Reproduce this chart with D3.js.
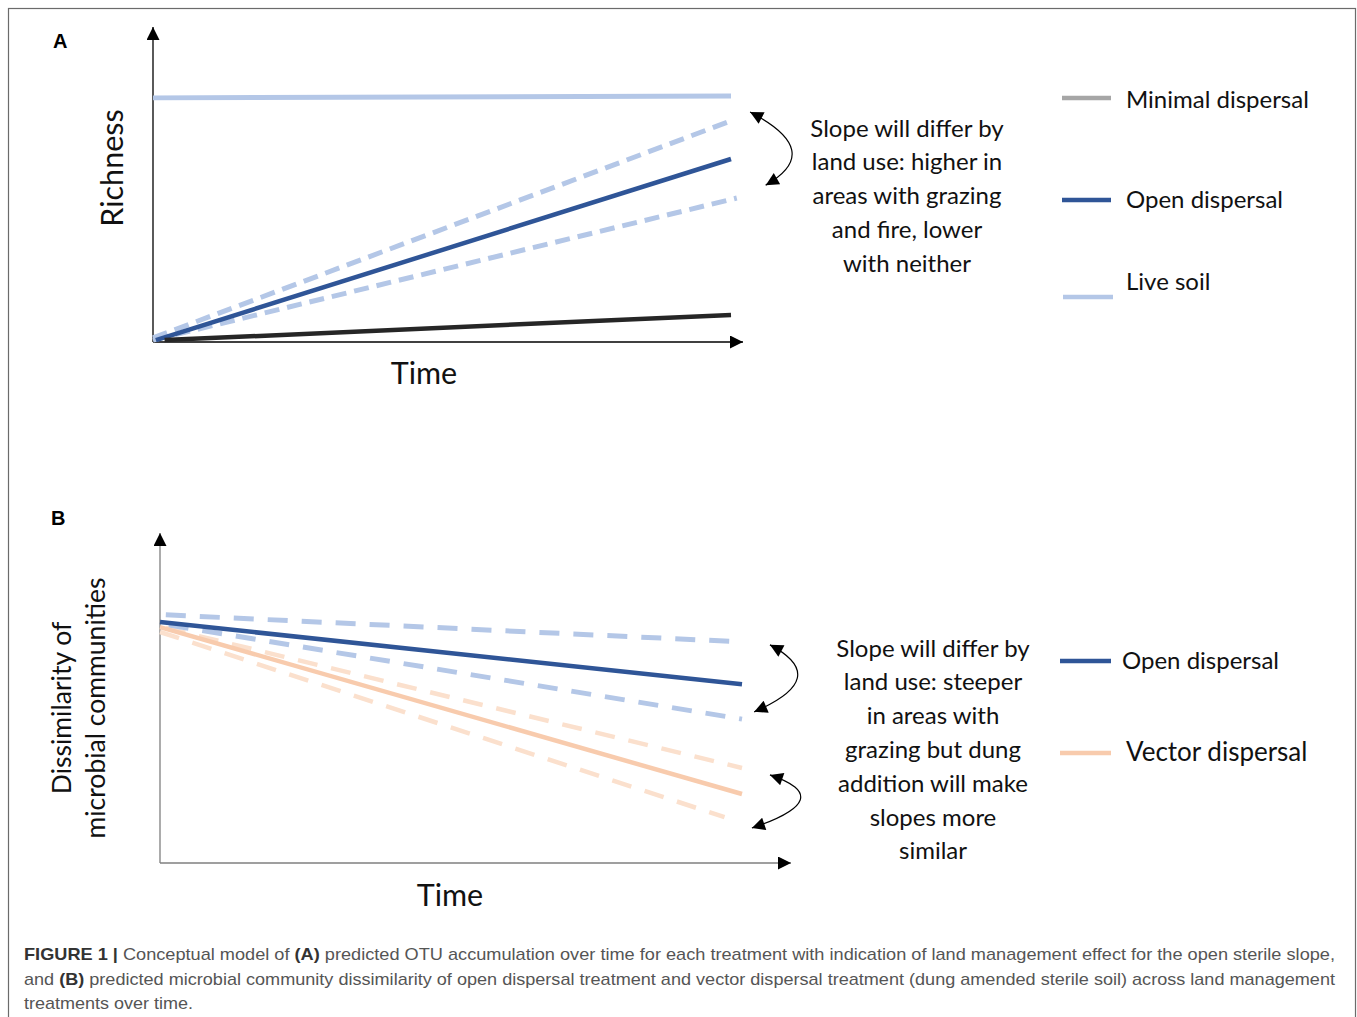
<!DOCTYPE html>
<html>
<head>
<meta charset="utf-8">
<script src="https://cdn.jsdelivr.net/npm/d3@7"></script>
<style>
  body { margin: 0; background: #fff; }
  svg { display: block; }
</style>
</head>
<body>
<svg id="fig" width="1357" height="1017"></svg>
<script>
'use strict';

// ---- data (conceptual model, arbitrary units: time 0-100, response 0-100) ----
var liveSoilA   = [{t: 0, v: 77.5}, {t: 100, v: 78.1}];
var openA       = [{t: 0.5, v: 0.6}, {t: 100, v: 58.1}];
var openHighA   = [{t: 0, v: 1.3}, {t: 100, v: 70.2}];
var openLowA    = [{t: 0, v: 0.6}, {t: 101, v: 45.7}];
var minimalA    = [{t: 2, v: 0.6}, {t: 100, v: 8.6}];

var openHighB   = [{t: 1, v: 75.2}, {t: 100, v: 67.0}];
var openB       = [{t: 0, v: 73.0}, {t: 100, v: 54.2}];
var openLowB    = [{t: 1.5, v: 72.1}, {t: 100, v: 43.6}];
var vectorHighB = [{t: 1, v: 71.2}, {t: 100, v: 28.8}];
var vectorB     = [{t: 0, v: 71.5}, {t: 100, v: 20.9}];
var vectorLowB  = [{t: 0, v: 70.0}, {t: 97, v: 13.9}];

var legendA = ["Minimal dispersal", "Open dispersal", "Live soil"];
var legendB = ["Open dispersal", "Vector dispersal"];

var noteA = ["Slope will differ by", "land use: higher in", "areas with grazing",
             "and fire, lower", "with neither"];
var noteB = ["Slope will differ by", "land use: steeper", "in areas with",
             "grazing but dung", "addition will make", "slopes more", "similar"];

var colors = {dark: "#2f5597", light: "#b4c7e7", black: "#262626", grey: "#a6a6a6",
              orange: "#f8cbad", orangeLight: "#fbe0cd"};

var svg = d3.select("#fig");
var font = "Lato, 'Open Sans', sans-serif";

// outer frame
svg.append("rect")
   .attr("x", 8.5).attr("y", 8.5)
   .attr("width", 1347).attr("height", 1030)
   .attr("fill", "none").attr("stroke", "#6b6b6b").attr("stroke-width", 1.2);

var defs = svg.append("defs");
defs.append("marker")
    .attr("id", "tri")
    .attr("viewBox", "0 0 10 10")
    .attr("refX", 10).attr("refY", 5)
    .attr("markerUnits", "userSpaceOnUse")
    .attr("markerWidth", 14).attr("markerHeight", 13)
    .attr("orient", "auto-start-reverse")
    .append("path").attr("d", "M0,0 L10,5 L0,10 Z").attr("fill", "#000");

function drawAxes(g, x, y, xEnd, yTop, axisColor) {
    g.append("line")
     .attr("x1", x.range()[0]).attr("y1", y.range()[0])
     .attr("x2", x.range()[0]).attr("y2", yTop)
     .attr("stroke", axisColor).attr("stroke-width", 1.3)
     .attr("marker-end", "url(#tri)");
    g.append("line")
     .attr("x1", x.range()[0]).attr("y1", y.range()[0])
     .attr("x2", xEnd).attr("y2", y.range()[0])
     .attr("stroke", axisColor).attr("stroke-width", 1.3)
     .attr("marker-end", "url(#tri)");
}

function drawSeries(g, line, data, color, dash, width) {
    g.append("path")
     .datum(data)
     .attr("d", line)
     .attr("fill", "none")
     .attr("stroke", color)
     .attr("stroke-width", width)
     .attr("stroke-dasharray", dash);
}

// curved double-headed arrow passing through a bulge point
function curvedArrow(g, x, y, a, bulge, b) {
    var p0 = [x(a[0]), y(a[1])], p2 = [x(b[0]), y(b[1])], pm = [x(bulge[0]), y(bulge[1])];
    var c = [2 * pm[0] - (p0[0] + p2[0]) / 2, 2 * pm[1] - (p0[1] + p2[1]) / 2];
    var p = d3.path();
    p.moveTo(p0[0], p0[1]);
    p.quadraticCurveTo(c[0], c[1], p2[0], p2[1]);
    g.append("path")
     .attr("d", p.toString())
     .attr("fill", "none").attr("stroke", "#000").attr("stroke-width", 1.2)
     .attr("marker-start", "url(#tri)").attr("marker-end", "url(#tri)");
}

function noteText(g, lines, cx, y0, step, size) {
    g.append("text")
     .attr("text-anchor", "middle")
     .attr("font-family", font).attr("font-size", size).attr("fill", "#111")
     .selectAll("tspan").data(lines).enter().append("tspan")
     .attr("x", cx).attr("y", (d, i) => y0 + i * step)
     .text(d => d);
}

// ---------------- panel A ----------------
var gA = svg.append("g");
var xA = d3.scaleLinear().domain([0, 100]).range([153, 731]);
var yA = d3.scaleLinear().domain([0, 100]).range([342, 27]);
var lineA = d3.line().x(d => xA(d.t)).y(d => yA(d.v));

gA.append("text").attr("x", 53).attr("y", 48)
  .attr("font-family", "'Liberation Sans', Arial, sans-serif").attr("font-weight", "bold")
  .attr("font-size", 20).text("A");

drawAxes(gA, xA, yA, 743, 27, "#000");

drawSeries(gA, lineA, liveSoilA, colors.light, null, 5);
drawSeries(gA, lineA, openHighA, colors.light, "15,8", 5);
drawSeries(gA, lineA, openLowA, colors.light, "15,8", 5);
drawSeries(gA, lineA, openA, colors.dark, null, 4.5);
drawSeries(gA, lineA, minimalA, colors.black, null, 4.5);

gA.append("text")
  .attr("transform", "translate(123,168) rotate(-90)")
  .attr("text-anchor", "middle")
  .attr("font-family", font).attr("font-size", 30.5).attr("fill", "#111")
  .text("Richness");
gA.append("text").attr("x", 424).attr("y", 384)
  .attr("text-anchor", "middle")
  .attr("font-family", font).attr("font-size", 30.5).attr("fill", "#111")
  .text("Time");

curvedArrow(gA, xA, yA, [103.3, 73.0], [110.5, 61.0], [106.0, 49.8]);
noteText(gA, noteA, 907, 136.5, 33.8, 24);

var legA = gA.selectAll("g.leg").data(legendA).enter().append("g");
var legAy = [98, 200, 297], legATy = [108, 208, 290];
var legAc = [colors.grey, colors.dark, colors.light];
legA.append("line")
    .attr("x1", (d, i) => i == 2 ? 1063 : 1062).attr("x2", (d, i) => i == 2 ? 1113 : 1111)
    .attr("y1", (d, i) => legAy[i]).attr("y2", (d, i) => legAy[i])
    .attr("stroke", (d, i) => legAc[i]).attr("stroke-width", 4.5);
legA.append("text")
    .attr("x", 1126).attr("y", (d, i) => legATy[i])
    .attr("font-family", font).attr("font-size", 24).attr("fill", "#111")
    .text(d => d);

// ---------------- panel B ----------------
var gB = svg.append("g");
var xB = d3.scaleLinear().domain([0, 100]).range([160, 742]);
var yB = d3.scaleLinear().domain([0, 100]).range([863, 533]);
var lineB = d3.line().x(d => xB(d.t)).y(d => yB(d.v));

gB.append("text").attr("x", 51).attr("y", 525)
  .attr("font-family", "'Liberation Sans', Arial, sans-serif").attr("font-weight", "bold")
  .attr("font-size", 20).text("B");

drawAxes(gB, xB, yB, 791, 533, "#7f7f7f");

drawSeries(gB, lineB, vectorHighB, colors.orangeLight, "20,14", 4.5);
drawSeries(gB, lineB, vectorLowB, colors.orangeLight, "20,14", 4.5);
drawSeries(gB, lineB, openHighB, colors.light, "20,14", 5);
drawSeries(gB, lineB, openLowB, colors.light, "20,14", 5);
drawSeries(gB, lineB, vectorB, colors.orange, null, 4.5);
drawSeries(gB, lineB, openB, colors.dark, null, 4.5);

gB.append("text")
  .attr("transform", "translate(71,708) rotate(-90)")
  .attr("text-anchor", "middle")
  .attr("font-family", font).attr("font-size", 26.5).attr("fill", "#111")
  .text("Dissimilarity of");
gB.append("text")
  .attr("transform", "translate(105,708) rotate(-90)")
  .attr("text-anchor", "middle")
  .attr("font-family", font).attr("font-size", 26.5).attr("fill", "#111")
  .text("microbial communities");
gB.append("text").attr("x", 450).attr("y", 906)
  .attr("text-anchor", "middle")
  .attr("font-family", font).attr("font-size", 30.5).attr("fill", "#111")
  .text("Time");

curvedArrow(gB, xB, yB, [104.8, 66.1], [109.5, 56.0], [102.1, 45.8]);
curvedArrow(gB, xB, yB, [104.8, 26.7], [110.0, 19.1], [101.7, 10.6]);
noteText(gB, noteB, 933, 656.5, 33.8, 24);

var legB = gB.selectAll("g.leg").data(legendB).enter().append("g");
var legBy = [661, 753], legBTy = [668.5, 760.5], legBs = [24, 26];
var legBc = [colors.dark, colors.orange];
legB.append("line")
    .attr("x1", 1060).attr("x2", 1111)
    .attr("y1", (d, i) => legBy[i]).attr("y2", (d, i) => legBy[i])
    .attr("stroke", (d, i) => legBc[i]).attr("stroke-width", 4.5);
legB.append("text")
    .attr("x", (d, i) => i == 0 ? 1122 : 1126).attr("y", (d, i) => legBTy[i])
    .attr("font-family", font).attr("font-size", (d, i) => legBs[i]).attr("fill", "#111")
    .text(d => d);

// ---------------- caption ----------------
var cap = svg.append("g")
    .attr("font-family", "'Liberation Sans', Arial, sans-serif")
    .attr("font-size", 17).attr("fill", "#555");

var t1 = cap.append("text").attr("x", 24).attr("y", 960)
    .attr("textLength", 1311).attr("lengthAdjust", "spacingAndGlyphs");
t1.append("tspan").attr("font-weight", "bold").attr("fill", "#333").text("FIGURE 1 | ");
t1.append("tspan").text("Conceptual model of ");
t1.append("tspan").attr("font-weight", "bold").attr("fill", "#333").text("(A)");
t1.append("tspan").text(" predicted OTU accumulation over time for each treatment with indication of land management effect for the open sterile slope,");

var t2 = cap.append("text").attr("x", 24).attr("y", 985)
    .attr("textLength", 1311).attr("lengthAdjust", "spacingAndGlyphs");
t2.append("tspan").text("and ");
t2.append("tspan").attr("font-weight", "bold").attr("fill", "#333").text("(B)");
t2.append("tspan").text(" predicted microbial community dissimilarity of open dispersal treatment and vector dispersal treatment (dung amended sterile soil) across land management");

cap.append("text").attr("x", 24).attr("y", 1009)
    .attr("textLength", 169).attr("lengthAdjust", "spacingAndGlyphs")
    .text("treatments over time.");
</script>
</body>
</html>
